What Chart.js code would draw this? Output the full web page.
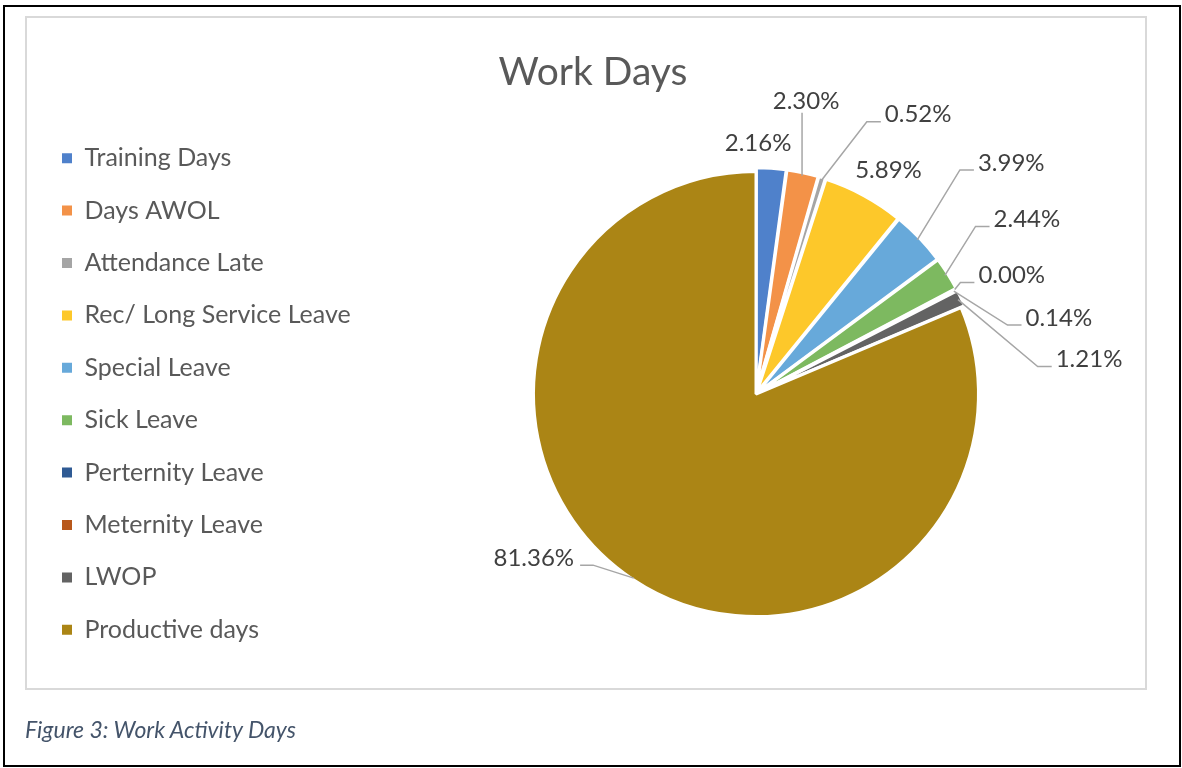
<!DOCTYPE html>
<html>
<head>
<meta charset="utf-8">
<title>Work Days</title>
<script src="https://cdn.jsdelivr.net/npm/chart.js@4.4.1/dist/chart.umd.min.js"></script>
<style>
  html, body { margin: 0; padding: 0; background: #fff; }
  body { width: 1182px; height: 768px; position: relative; overflow: hidden; font-family: Lato, sans-serif; }
  #frame { position: absolute; left: 3px; top: 5px; width: 1178px; height: 762px; border: 2px solid #000; box-sizing: border-box; }
  #chart-box { position: absolute; left: 25px; top: 16px; width: 1122px; height: 674px; border: 2px solid #d9d9d9; box-sizing: border-box; }
  #work-chart { position: absolute; left: 0; top: 0; }
  #caption { position: absolute; left: 25px; top: 715px; font: italic 23px Lato, sans-serif; color: #44546a; white-space: nowrap; }
</style>
</head>
<body>
<div id="frame"></div>
<div id="chart-box"></div>
<canvas id="work-chart" width="1182" height="768"></canvas>
<div id="caption">Figure 3: Work Activity Days</div>

<script>
"use strict";

// Data
const categories = [
  "Training Days",
  "Days AWOL",
  "Attendance Late",
  "Rec/ Long Service Leave",
  "Special Leave",
  "Sick Leave",
  "Perternity Leave",
  "Meternity Leave",
  "LWOP",
  "Productive days",
];
const shares = [2.16, 2.30, 0.52, 5.89, 3.99, 2.44, 0.00, 0.14, 1.21, 81.36];
const shareLabels = ["2.16%", "2.30%", "0.52%", "5.89%", "3.99%", "2.44%", "0.00%", "0.14%", "1.21%", "81.36%"];

// Styling
const sliceColors = [
  "#4f81cb", "#f39248", "#a5a5a5", "#fdc82a", "#67a9da",
  "#7db960", "#2f5a94", "#b8581b", "#636363", "#ab8515",
];
// where each value label sits, relative to the point on the slice edge
const labelOffsets = [
  [-13, -28], [4, -75], [97, -66], [26, -28], [94, -77],
  [82, -56], [57, -14], [105, 27], [131, 60], [-100, -20],
];
const leaderKinds = ["none", "up", "right", "none", "right", "right", "right", "right", "right", "left"];

const PIE_CX = 756;
const textGrey = "#595959";
const labelGrey = "#404040";
const leaderGrey = "#a6a6a6";

Chart.defaults.font.family = "Lato, 'Open Sans', sans-serif";

// Draws the percentage labels and their leader lines
const pieLabels = {
  id: "pieLabels",
  afterDatasetsDraw(chart) {
    const { ctx } = chart;
    const meta = chart.getDatasetMeta(0);
    ctx.save();
    ctx.font = "24px Lato, 'Open Sans', sans-serif";
    ctx.textBaseline = "middle";
    ctx.textAlign = "center";
    meta.data.forEach((arc, i) => {
      const p = arc.getProps(["x", "y", "startAngle", "endAngle", "outerRadius"], true);
      const mid = (p.startAngle + p.endAngle) / 2;
      const bw = arc.options.borderWidth || 0;
      const r = p.outerRadius - bw / 2 + (arc.options.offset || 0) / 4;
      const ax = p.x + Math.cos(mid) * r;
      const ay = p.y + Math.sin(mid) * r;
      const cx = ax + labelOffsets[i][0];
      const cy = ay + labelOffsets[i][1];
      const w = ctx.measureText(shareLabels[i]).width;

      const kind = leaderKinds[i];
      if (kind !== "none") {
        ctx.strokeStyle = leaderGrey;
        ctx.lineWidth = 1.5;
        ctx.beginPath();
        ctx.moveTo(ax, ay);
        if (kind === "up") {
          ctx.lineTo(ax, cy + 12);
        } else if (kind === "right") {
          const left = cx - w / 2;
          ctx.lineTo(left - 18, cy + 7);
          ctx.lineTo(left - 4, cy + 7);
        } else {
          const right = cx + w / 2;
          ctx.lineTo(right + 19, cy + 7);
          ctx.lineTo(right + 6, cy + 7);
        }
        ctx.stroke();
      }
      ctx.fillStyle = labelGrey;
      ctx.fillText(shareLabels[i], cx, cy);
    });
    ctx.restore();
  },
};

const chart = new Chart(document.getElementById("work-chart"), {
  type: "pie",
  data: {
    labels: categories,
    datasets: [
      {
        data: shares,
        backgroundColor: sliceColors,
        borderColor: "#ffffff",
        borderWidth: (c) => (shares[c.dataIndex] === 0 ? 0 : 3),
        offset: (c) => (c.dataIndex === categories.length - 1 ? 0 : 8),
        radius: 222.5,
      },
    ],
  },
  options: {
    responsive: false,
    animation: false,
    layout: { padding: { left: 34.6, right: 20, top: 0, bottom: 75.4 } },
    plugins: {
      title: {
        display: true,
        text: "Work Days",
        color: textGrey,
        font: { size: 39, weight: "normal" },
        padding: { top: 48.6, bottom: 0 },
      },
      legend: {
        position: "left",
        fullSize: false,
        labels: {
          color: textGrey,
          font: { size: 25 },
          boxWidth: 10,
          boxHeight: 10,
          padding: 27.4,
          generateLabels(c) {
            const items = Chart.overrides.pie.plugins.legend.labels.generateLabels(c);
            items.forEach((it) => {
              it.lineWidth = 0;
              it.strokeStyle = "rgba(0,0,0,0)";
            });
            return items;
          },
        },
      },
      tooltip: { enabled: false },
    },
  },
  plugins: [pieLabels],
});

// keep the pie centred where the original has it, whatever width the legend takes
const drift = chart.chartArea.left + chart.chartArea.right - 2 * PIE_CX;
if (drift) {
  chart.options.layout.padding.right += drift;
  chart.update();
}
</script>
</body>
</html>
